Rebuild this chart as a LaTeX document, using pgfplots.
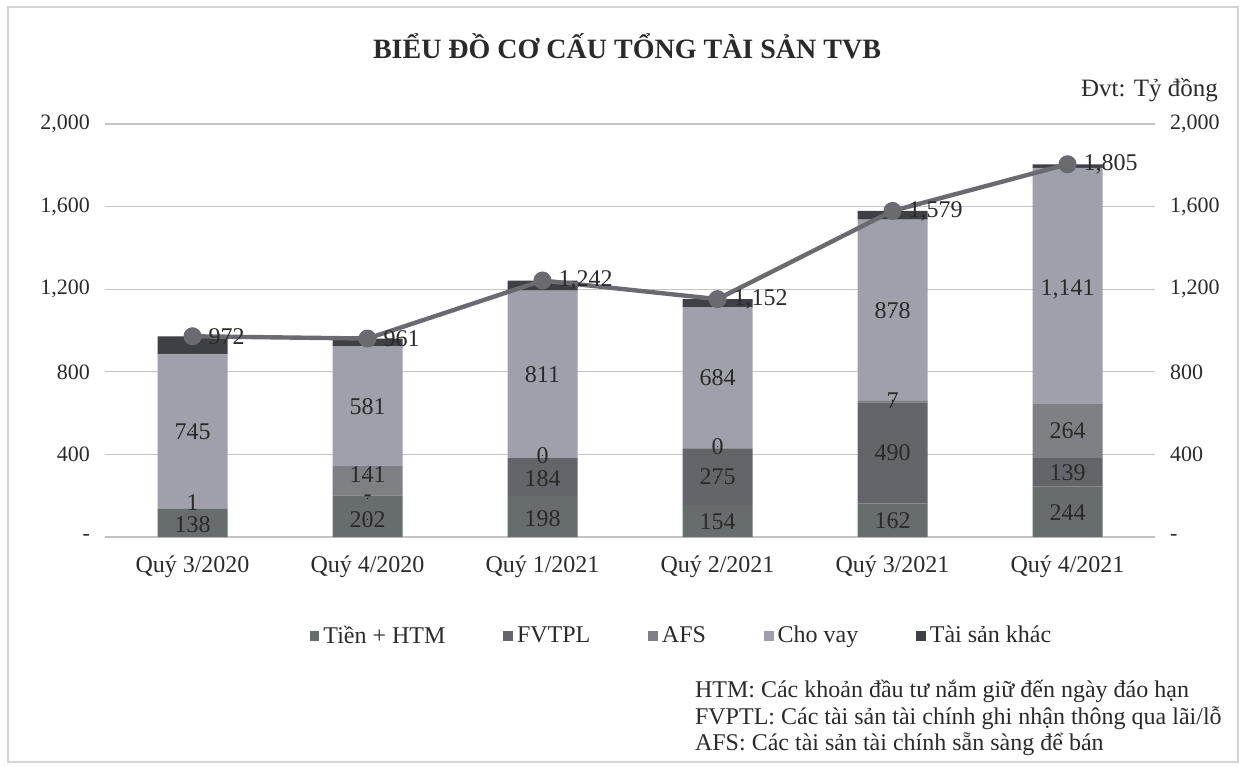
\documentclass[border=0pt]{standalone}
\usepackage{fontspec}
\setmainfont{Liberation Serif}
\usepackage{pgfplots}
\pgfplotsset{compat=1.18}
\definecolor{tien}{HTML}{676C6C}
\definecolor{fvtpl}{HTML}{64656B}
\definecolor{afs}{HTML}{7E8086}
\definecolor{chovay}{HTML}{A0A0AA}
\definecolor{khac}{HTML}{3E4045}
\definecolor{tong}{HTML}{6A6A70}
\definecolor{gridc}{HTML}{C4C4C4}
\definecolor{txt}{HTML}{2A2A2A}
\definecolor{frame}{HTML}{D4D4D4}

\pgfplotsset{
  tvb/.style={
    scale only axis, width=525pt, height=206.5pt,
    at={(52.5pt,114.5pt)}, anchor=south west,
    xmin=-0.5, xmax=5.5, ymin=0, ymax=2000,
    ytick={0,400,800,1200,1600,2000},
    yticklabels={-,400,800,{1,200},{1,600},{2,000}},
    tick style={draw=none},
    tick label style={font=\fontsize{11}{13}\selectfont, text=txt},
    /pgf/number format/assume math mode=true,
    clip=false,
  },
  lbl/.style={
    only marks, mark=*, mark size=0.01pt, mark options={draw=none, fill=none},
    nodes near coords, point meta=explicit symbolic,
    every node near coord/.append style={anchor=center, inner sep=0pt,
      font=\fontsize{12}{13}\selectfont, text=txt},
  },
}

\begin{document}
\begin{tikzpicture}
\path (0,0) rectangle (621pt,383pt);
\draw[frame, line width=0.8pt] (4pt,2pt) rectangle (619pt,379.5pt);

% bars
\begin{axis}[tvb,
  ybar stacked, bar width=35pt,
  axis line style={draw=none},
  ymajorgrids, grid style={gridc, line width=0.6pt},
  xtick={0,1,2,3,4,5},
  xticklabels={Quý 3/2020,Quý 4/2020,Quý 1/2021,Quý 2/2021,Quý 3/2021,Quý 4/2021},
  xticklabel style={yshift=-6pt, font=\fontsize{12}{13}\selectfont},
  yticklabel style={xshift=-4pt},
  legend columns=5,
  legend style={at={(0.55,-0.24)}, anchor=center, draw=none, fill=none,
    font=\fontsize{12}{13}\selectfont, text=txt,
    /tikz/every even column/.append style={column sep=27pt}},
  legend image code/.code={\fill[#1] (0pt,-2.4pt) rectangle (4.8pt,2.4pt);},
]
\addplot[fill=tien, draw=none] coordinates {(0,138) (1,202) (2,198) (3,154) (4,162) (5,244)};
\addlegendentry{Tiền + HTM}
\addplot[fill=fvtpl, draw=none] coordinates {(0,1) (1,0) (2,184) (3,275) (4,490) (5,139)};
\addlegendentry{FVTPL}
\addplot[fill=afs, draw=none] coordinates {(0,0) (1,141) (2,0) (3,0) (4,7) (5,264)};
\addlegendentry{AFS}
\addplot[fill=chovay, draw=none] coordinates {(0,745) (1,581) (2,811) (3,684) (4,878) (5,1141)};
\addlegendentry{Cho vay}
\addplot[fill=khac, draw=none] coordinates {(0,88) (1,37) (2,49) (3,39) (4,42) (5,17)};
\addlegendentry{Tài sản khác}
\end{axis}

% total line, labels, right axis
\begin{axis}[tvb,
  axis x line=none, axis y line*=right,
  y axis line style={draw=none},
  yticklabel style={xshift=4pt},
]
\addplot[lbl] coordinates {
  (0,58) [138] (0,168) [1] (0,511) [745]
  (1,86) [202] (1,186) [-] (1,302) [141] (1,633.5) [581]
  (2,88) [198] (2,285) [184] (2,395) [0] (2,787.5) [811]
  (3,72) [154] (3,291.5) [275] (3,437) [0] (3,771) [684]
  (4,81) [162] (4,407) [490] (4,662) [7] (4,1098) [878]
  (5,118) [244] (5,313.5) [139] (5,515) [264] (5,1200) [{1,141}]
};
\addplot[tong, line width=2.2pt, mark=*, mark size=3.4pt,
  mark options={fill=tong, draw=tong},
  nodes near coords, point meta=explicit symbolic,
  every node near coord/.append style={anchor=west, xshift=7pt, inner sep=0pt,
    font=\fontsize{12}{13}\selectfont, text=txt}]
  coordinates {(0,972) [972] (1,961) [961] (2,1242) [{1,242}]
    (3,1152) [{1,152}] (4,1579) [{1,579}] (5,1805) [{1,805}]};
\end{axis}

\node[font=\bfseries\fontsize{14}{16}\selectfont, text=txt] at (313.5pt,360pt)
  {BIỂU ĐỒ CƠ CẤU TỔNG TÀI SẢN TVB};
\node[anchor=east, font=\fontsize{12.5}{14}\selectfont, text=txt] at (612.5pt,338pt)
  {Đvt: Tỷ đồng};
\node[anchor=west, align=left, font=\fontsize{12}{13.3}\selectfont, text=txt]
  at (344pt,24pt)
  {HTM: Các khoản đầu tư nắm giữ đến ngày đáo hạn\\
   FVPTL: Các tài sản tài chính ghi nhận thông qua lãi/lỗ\\
   AFS: Các tài sản tài chính sẵn sàng để bán};
\end{tikzpicture}
\end{document}
